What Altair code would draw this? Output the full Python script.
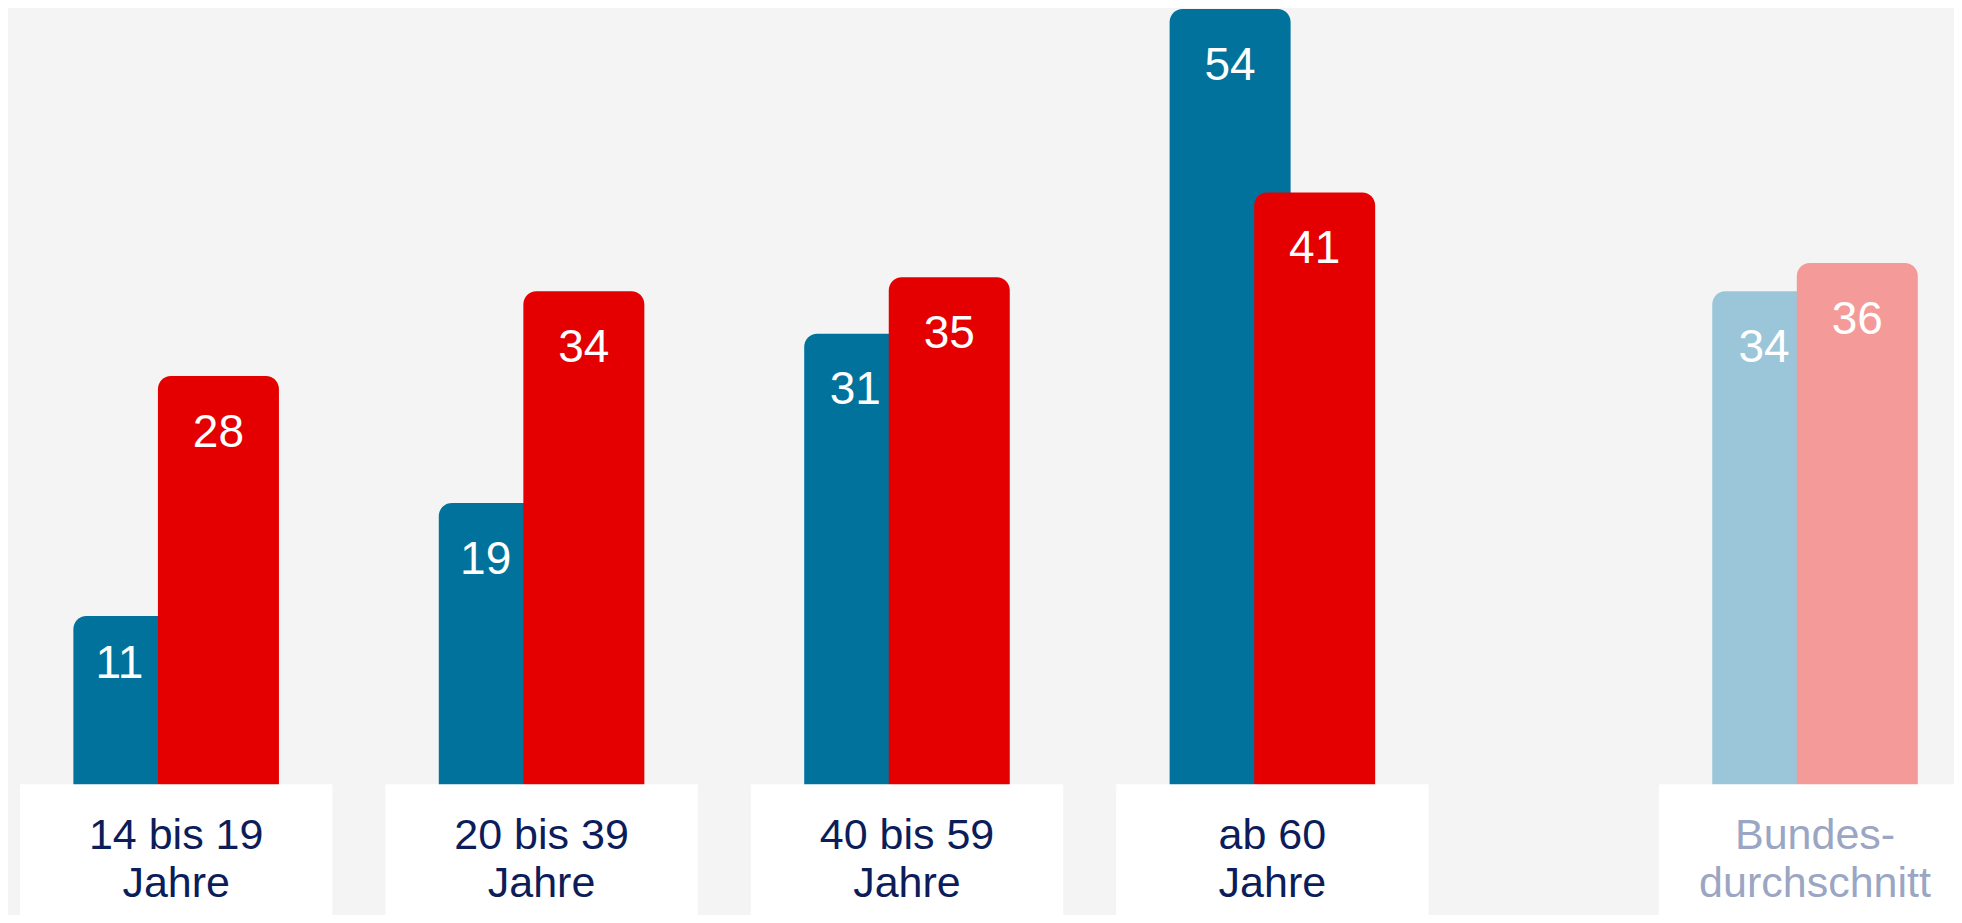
import altair as alt
import pandas as pd

# ---- data ----
categories = ["14 bis 19\nJahre", "20 bis 39\nJahre", "40 bis 59\nJahre", "ab 60\nJahre", "Bundes-\ndurchschnitt"]
series_blue = [11, 19, 31, 54, 34]
series_red = [28, 34, 35, 41, 36]

# ---- layout constants ----
W, H = 1946, 907
UNIT = 367.3                      # px per group slot
slot = [0, 1, 2, 3, 4.485]        # group centre positions (the average is set apart)
X0 = -164 / UNIT
X1 = X0 + W / UNIT
PXV = 14.15                       # px per value unit
ZERO_PX = 763
Y1 = ZERO_PX / PXV
Y0 = (ZERO_PX - H) / PXV
BOX_TOP = (ZERO_PX - 776) / PXV
LABEL_Y = (ZERO_PX - 841) / PXV
OFF = 42.5 / UNIT
BOX_HALF = 157 / UNIT

rows = []
for i, cat in enumerate(categories):
    avg = i == len(categories) - 1
    for s, vals, other in (("blue", series_blue, series_red), ("red", series_red, series_blue)):
        v = vals[i]
        x = slot[i] + (-OFF if s == "blue" else OFF)
        # blue labels move left into the visible part when the red bar covers them
        shift_px = -(8 + 0.38 * (other[i] - v)) if (s == "blue" and other[i] > v) else 0
        lx = x + shift_px / UNIT
        # label baseline below the bar top (less for very short bars)
        visible = (v - BOX_TOP) * PXV
        drop = min(71, 0.367 * visible)
        ly = v - drop / PXV
        if s == "blue":
            col = "#9bc6d9" if avg else "#00729c"
        else:
            col = "#f49a98" if avg else "#e40000"
        rows.append(dict(cat=cat, series=s, v=v, x=x, lx=lx, ly=ly, col=col, base=Y0))
bars = pd.DataFrame(rows)

boxes = pd.DataFrame(dict(
    cat=categories,
    c=slot,
    b0=[p - BOX_HALF for p in slot],
    b1=[p + BOX_HALF for p in slot],
    btop=[BOX_TOP] * len(slot),
    base=[Y0] * len(slot),
    ly=[LABEL_Y] * len(slot),
    tcol=["#0c1d5a"] * 4 + ["#9aa6c3"],
))

xs = alt.Scale(domain=[X0, X1], nice=False, zero=False)
ys = alt.Scale(domain=[Y0, Y1], nice=False, zero=False)

bar_layer = alt.Chart(bars).mark_bar(
    size=121, cornerRadiusTopLeft=13, cornerRadiusTopRight=13
).encode(
    x=alt.X("x:Q", scale=xs, axis=None),
    y=alt.Y("v:Q", scale=ys, axis=None),
    y2="base:Q",
    color=alt.Color("col:N", scale=None),
)

val_layer = alt.Chart(bars).mark_text(
    font="Liberation Sans", fontSize=46, color="white",
    baseline="alphabetic", align="center"
).encode(
    x=alt.X("lx:Q", scale=xs, axis=None),
    y=alt.Y("ly:Q", scale=ys, axis=None),
    text=alt.Text("v:Q"),
)

box_layer = alt.Chart(boxes).mark_rect(color="white", clip=True).encode(
    x=alt.X("b0:Q", scale=xs, axis=None),
    x2="b1:Q",
    y=alt.Y("btop:Q", scale=ys, axis=None),
    y2="base:Q",
)

cat_layer = alt.Chart(boxes).mark_text(
    font="Liberation Sans", fontSize=43, lineBreak="\n", lineHeight=48,
    baseline="alphabetic", align="center"
).encode(
    x=alt.X("c:Q", scale=xs, axis=None),
    y=alt.Y("ly:Q", scale=ys, axis=None),
    text="cat:N",
    color=alt.Color("tcol:N", scale=None),
)

chart = alt.layer(bar_layer, box_layer, val_layer, cat_layer).properties(
    width=W, height=H,
    autosize=alt.AutoSizeParams(type="fit", contains="padding"),
    padding=0,
    background="#f4f4f4",
).configure_view(stroke=None)

chart.save("out.html", embed_options={"renderer": "svg", "actions": False})
